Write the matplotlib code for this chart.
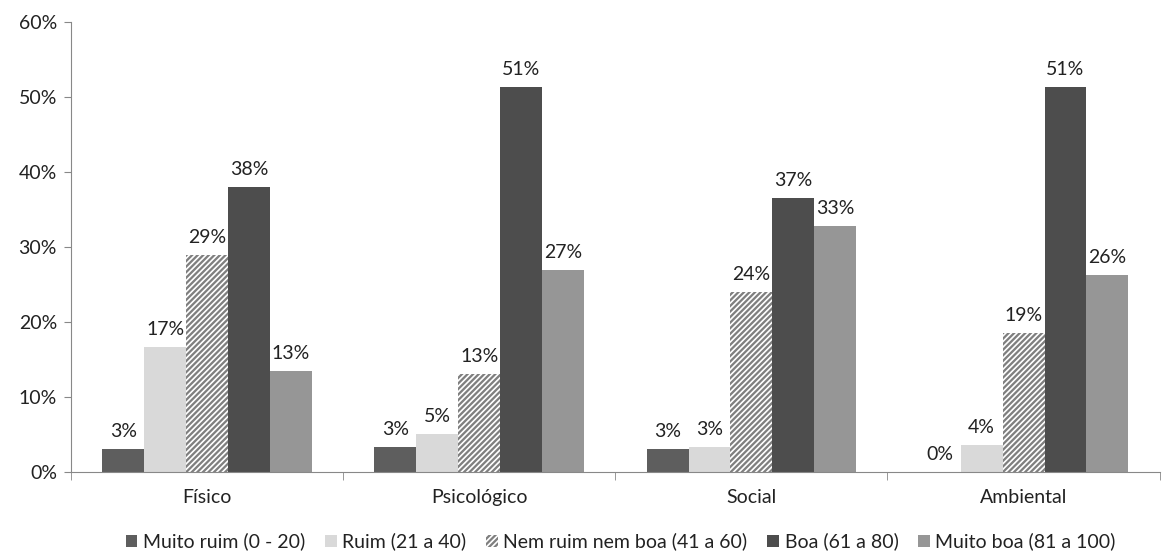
import matplotlib.pyplot as plt
import numpy as np

# Data
categories = ['Físico', 'Psicológico', 'Social', 'Ambiental']
series_names = ['Muito ruim (0 - 20)', 'Ruim (21 a 40)', 'Nem ruim nem boa (41 a 60)',
                'Boa (61 a 80)', 'Muito boa (81 a 100)']
muito_ruim = [3.1, 3.4, 3.1, 0.0]
ruim = [16.7, 5.1, 3.4, 3.7]
nem = [28.9, 13.1, 24.0, 18.5]
boa = [38.0, 51.3, 36.5, 51.3]
muito_boa = [13.5, 26.9, 32.8, 26.3]
labels = [['3%', '3%', '3%', '0%'],
          ['17%', '5%', '3%', '4%'],
          ['29%', '13%', '24%', '19%'],
          ['38%', '51%', '37%', '51%'],
          ['13%', '27%', '33%', '26%']]

series = [muito_ruim, ruim, nem, boa, muito_boa]
colors = ['#5e5e5e', '#d9d9d9', '#7f7f7f', '#4d4d4d', '#969696']
hatches = [None, None, '//////', None, None]

plt.rcParams['font.family'] = ['Lato', 'DejaVu Sans']
plt.rcParams['hatch.linewidth'] = 1.2

fig = plt.figure(figsize=(11.62, 5.59), dpi=100)
ax = fig.add_axes([0.061, 0.155, 0.937, 0.806])

x = np.arange(len(categories))
w = 0.154
for i, vals in enumerate(series):
    pos = x + (i - 2) * w
    if hatches[i]:
        bars = ax.bar(pos, vals, w, color=colors[i], edgecolor='white', hatch=hatches[i],
                      linewidth=0, label=series_names[i])
    else:
        bars = ax.bar(pos, vals, w, color=colors[i], linewidth=0, label=series_names[i])
    for b, v, t in zip(bars, vals, labels[i]):
        ax.text(b.get_x() + b.get_width() / 2, v + 1.2, t, ha='center', va='bottom',
                fontsize=14, color='#222222')

ax.set_xlim(-0.5, 3.5)
ax.set_ylim(0, 60)
ax.set_yticks(range(0, 61, 10))
ax.set_yticklabels([f'{v}%' for v in range(0, 61, 10)])
ax.set_xticks(x)
ax.set_xticklabels(categories)
ax.set_xticks(np.arange(-0.5, 3.6, 1), minor=True)
ax.tick_params(axis='x', which='major', length=0, pad=12, labelsize=14, labelcolor='#222222')
ax.tick_params(axis='x', which='minor', length=6, color='#888888', direction='out')
ax.tick_params(axis='y', length=5, color='#888888', labelsize=14, pad=5, labelcolor='#222222')

for s in ['top', 'right']:
    ax.spines[s].set_visible(False)
for s in ['left', 'bottom']:
    ax.spines[s].set_color('#888888')

ax.legend(loc='upper center', bbox_to_anchor=(0.505, -0.095), ncol=5, frameon=False,
          fontsize=14, handlelength=0.6, handleheight=0.6, handletextpad=0.3,
          columnspacing=1.0, labelcolor='#222222')

fig.savefig('out.png', dpi=100)
